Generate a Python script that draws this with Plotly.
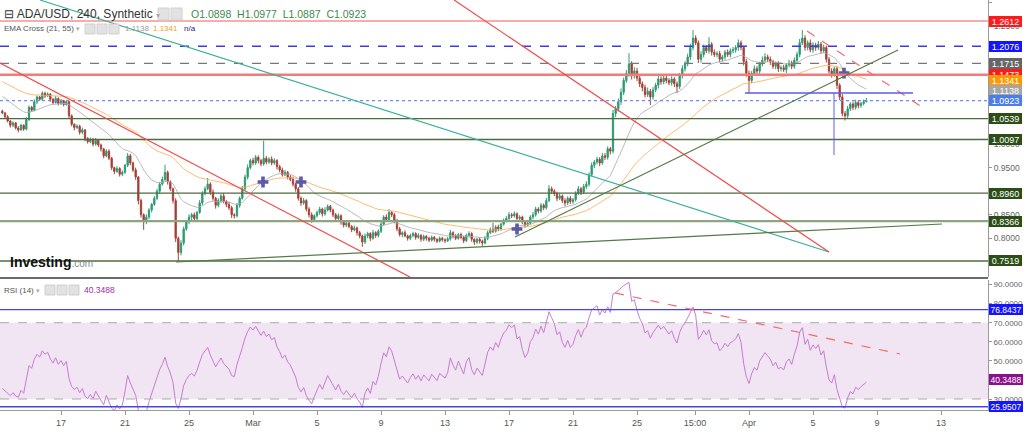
import plotly.graph_objects as go
import pandas as pd

# ---------------- data ----------------
start_time = "2021-02-13 08:00"
first_open = 1.070
close = [
    1.066, 1.058, 1.049, 1.040,                      # Feb 13
    1.045, 1.034, 1.030, 1.040, 1.032, 1.052,        # Feb 14
    1.078, 1.072, 1.090, 1.100, 1.095, 1.108,        # Feb 15
    1.102, 1.106, 1.095, 1.088, 1.097, 1.086,        # Feb 16
    1.092, 1.084, 1.090, 1.060, 1.042, 1.035,        # Feb 17
    1.038, 1.025, 1.030, 1.012, 1.005, 1.010,        # Feb 18
    1.000, 1.008, 0.998, 0.990, 0.975, 0.985,        # Feb 19
    0.970, 0.950, 0.942, 0.948, 0.936, 0.940,        # Feb 20
    0.955, 0.975, 0.960, 0.945, 0.930, 0.880,        # Feb 21
    0.850, 0.835, 0.845, 0.860, 0.872, 0.885,        # Feb 22
    0.900, 0.915, 0.925, 0.940, 0.920, 0.905,        # Feb 23
    0.880, 0.800, 0.770, 0.790, 0.820, 0.835,        # Feb 24
    0.845, 0.850, 0.842, 0.855, 0.875, 0.895,        # Feb 25
    0.905, 0.915, 0.898, 0.885, 0.870, 0.880,        # Feb 26
    0.890, 0.878, 0.872, 0.865, 0.850, 0.848,        # Feb 27
    0.870, 0.885, 0.905, 0.930, 0.950, 0.965,        # Feb 28
    0.960, 0.972, 0.965, 0.958, 0.970, 0.962,        # Mar 1
    0.968, 0.960, 0.965, 0.952, 0.945, 0.935,        # Mar 2
    0.940, 0.930, 0.925, 0.915, 0.905, 0.885,        # Mar 3
    0.875, 0.880, 0.862, 0.850, 0.840, 0.848,        # Mar 4
    0.855, 0.862, 0.852, 0.860, 0.868, 0.860,        # Mar 5
    0.850, 0.842, 0.848, 0.835, 0.828, 0.832,        # Mar 6
    0.825, 0.818, 0.822, 0.812, 0.805, 0.792,        # Mar 7
    0.805, 0.810, 0.800, 0.812, 0.806, 0.815,        # Mar 8
    0.830, 0.845, 0.840, 0.855, 0.850, 0.838,        # Mar 9
    0.820, 0.808, 0.812, 0.805, 0.800, 0.806,        # Mar 10
    0.810, 0.802, 0.806, 0.798, 0.804, 0.800,        # Mar 11
    0.796, 0.802, 0.798, 0.794, 0.800, 0.797,        # Mar 12
    0.795, 0.799, 0.812, 0.805, 0.800, 0.808,        # Mar 13
    0.802, 0.795, 0.806, 0.810, 0.798, 0.792,        # Mar 14
    0.798, 0.794, 0.790, 0.800, 0.812, 0.818,        # Mar 15
    0.815, 0.824, 0.820, 0.830, 0.838, 0.842,        # Mar 16
    0.850, 0.848, 0.852, 0.842, 0.845, 0.835,        # Mar 17
    0.828, 0.832, 0.845, 0.850, 0.862, 0.858,        # Mar 18
    0.870, 0.865, 0.880, 0.905, 0.900, 0.895,        # Mar 19
    0.885, 0.890, 0.880, 0.875, 0.885, 0.878,        # Mar 20
    0.882, 0.895, 0.905, 0.898, 0.910, 0.915,        # Mar 21
    0.935, 0.955, 0.962, 0.968, 0.960, 0.975,        # Mar 22
    0.972, 0.990, 0.985, 1.065, 1.075, 1.090,        # Mar 23
    1.110, 1.135, 1.150, 1.170, 1.145, 1.155,        # Mar 24
    1.140, 1.128, 1.120, 1.105, 1.112, 1.100,        # Mar 25
    1.115, 1.125, 1.138, 1.132, 1.140, 1.135,        # Mar 26
    1.130, 1.138, 1.128, 1.122, 1.145, 1.160,        # Mar 27
    1.170, 1.185, 1.205, 1.225, 1.215, 1.180,        # Mar 28
    1.190, 1.205, 1.198, 1.212, 1.195, 1.190,        # Mar 29
    1.192, 1.180, 1.185, 1.195, 1.190, 1.198,        # Mar 30
    1.200, 1.205, 1.215, 1.205, 1.175, 1.150,        # Mar 31
    1.135, 1.150, 1.160, 1.155, 1.170, 1.178,        # Apr 1
    1.185, 1.180, 1.175, 1.165, 1.170, 1.160,        # Apr 2
    1.162, 1.158, 1.168, 1.172, 1.165, 1.178,        # Apr 3
    1.190, 1.215, 1.225, 1.205, 1.215, 1.200,        # Apr 4
    1.210, 1.205, 1.212, 1.198, 1.205, 1.180,        # Apr 5
    1.155, 1.148, 1.160, 1.125, 1.100, 1.065,        # Apr 6
    1.060, 1.075, 1.085, 1.078, 1.088, 1.082,        # Apr 7
    1.086, 1.0898, 1.0923,                           # Apr 8
]
# wick lengths above / below the candle body, in thousandths
upper_wick = [
    3, 2, 4, 2,
    3, 2, 4, 3, 2, 5,   4, 3, 5, 3, 2, 4,   3, 4, 2, 3, 5, 2,   4, 2, 3, 2, 3, 2,
    4, 3, 5, 2, 3, 4,   3, 5, 2, 3, 2, 4,   4, 3, 2, 5, 3, 4,   3, 6, 4, 3, 5, 2,
    4, 3, 6, 4, 3, 5,   5, 4, 6, 16, 4, 3,  3, 5, 4, 6, 5, 4,   6, 4, 5, 3, 6, 5,
    5, 13, 4, 6, 3, 5,  4, 6, 3, 5, 4, 3,   5, 4, 6, 5, 7, 4,   6, 5, 4, 3, 37, 5,
    4, 6, 5, 3, 4, 5,   5, 3, 4, 6, 3, 4,   4, 6, 3, 4, 5, 3,   4, 5, 3, 6, 4, 3,
    3, 4, 5, 3, 4, 5,   4, 3, 5, 3, 4, 3,   5, 4, 3, 6, 3, 4,   5, 4, 6, 7, 3, 4,
    3, 4, 3, 5, 3, 4,   4, 3, 5, 3, 4, 3,   3, 4, 3, 2, 4, 3,   3, 4, 6, 3, 4, 3,
    4, 3, 4, 5, 3, 2,   3, 4, 3, 5, 4, 5,   15, 4, 5, 3, 4, 5,  6, 4, 5, 3, 4, 3,
    3, 5, 4, 6, 5, 4,   5, 4, 6, 8, 5, 4,   4, 6, 3, 5, 4, 5,   4, 5, 6, 4, 5, 6,
    5, 6, 4, 5, 4, 6,   6, 5, 4, 8, 6, 7,   8, 6, 7, 23, 6, 8,  7, 6, 5, 6, 8, 5,
    6, 5, 7, 6, 5, 6,   5, 6, 4, 5, 6, 7,   6, 7, 8, 17, 6, 5,  7, 6, 5, 15, 4, 6,
    5, 6, 4, 5, 6, 5,   6, 5, 7, 5, 4, 6,   6, 5, 7, 6, 5, 8,   8, 5, 6, 4, 5, 6,
    5, 6, 4, 7, 5, 6,   6, 8, 17, 6, 5, 7,  6, 5, 7, 5, 6, 4,   5, 6, 4, 5, 4, 6,
    5, 6, 4, 5, 6, 5,
    4, 5, 5.4,
]
lower_wick = [
    2, 4, 3, 5,
    4, 3, 5, 2, 4, 3,   3, 4, 2, 5, 3, 2,   4, 2, 5, 3, 2, 4,   3, 4, 2, 5, 4, 6,
    3, 5, 4, 6, 4, 3,   5, 3, 4, 6, 5, 3,   4, 5, 6, 3, 5, 4,   3, 4, 5, 4, 6, 8,
    6, 17, 5, 4, 5, 3,  4, 5, 3, 4, 6, 5,   6, 8, 19, 6, 5, 4,  5, 6, 4, 5, 3, 4,
    4, 3, 6, 5, 7, 4,   5, 4, 6, 5, 7, 6,   4, 5, 3, 4, 5, 4,   5, 4, 6, 5, 4, 5,
    4, 5, 4, 6, 5, 4,   3, 5, 4, 5, 6, 5,   6, 4, 5, 6, 7, 4,   4, 5, 6, 4, 3, 5,
    5, 4, 3, 6, 5, 4,   4, 5, 3, 6, 5, 10,  4, 5, 6, 3, 5, 4,   4, 3, 5, 4, 5, 6,
    5, 4, 6, 3, 5, 4,   4, 5, 3, 5, 4, 5,   4, 3, 5, 4, 3, 4,   5, 3, 4, 5, 4, 3,
    4, 5, 3, 4, 5, 6,   4, 5, 6, 3, 4, 3,   4, 3, 5, 4, 3, 4,   3, 5, 4, 6, 4, 5,
    6, 4, 3, 5, 4, 5,   4, 5, 4, 3, 6, 5,   6, 4, 5, 7, 4, 5,   5, 4, 3, 6, 4, 5,
    5, 4, 6, 5, 7, 4,   6, 5, 7, 5, 8, 6,   7, 6, 5, 7, 8, 6,   6, 7, 8, 6, 5, 17,
    6, 5, 7, 6, 5, 6,   5, 6, 7, 14, 5, 6,  6, 5, 7, 6, 5, 8,   7, 6, 5, 6, 7, 5,
    6, 7, 5, 6, 5, 6,   5, 6, 7, 6, 8, 7,   27, 6, 5, 7, 6, 5,  5, 6, 7, 5, 6, 7,
    6, 5, 7, 5, 6, 5,   5, 6, 5, 7, 6, 5,   6, 7, 5, 6, 5, 7,   6, 7, 5, 8, 7, 6,
    10, 6, 5, 6, 5, 6,
    5, 4, 1.1,
]
assert len(close) == len(upper_wick) == len(lower_wick)

# indicator seeds (values of the averages at the left edge)
ema_fast_seed, ema_slow_seed = 1.105, 1.135
rsi_gain_seed, rsi_loss_seed = 0.0068, 0.0120

# horizontal levels: price, colour, dash, width
level_price = [1.2612, 1.2076, 1.1715, 1.1473, 1.0923, 1.0539, 1.0097, 0.8960, 0.8366, 0.7519]
level_color = ["#f25b5b", "#3a3af0", "#777777", "#f27a7a", "#6f8ff0",
               "#4e6b3f", "#4e6b3f", "#4e6b3f", "#8fa582", "#4e6b3f"]
level_dash = ["solid", "dash", "dash", "solid", "dot", "solid", "solid", "solid", "solid", "solid"]
level_width = [1.2, 1.3, 1.2, 2.4, 1.1, 1.3, 1.3, 1.3, 2.2, 1.3]

# right-axis price tags
tag_price = [1.2612, 1.2076, 1.1715, 1.1473, 1.1341, 1.1138, 1.0923, 1.0539, 1.0097, 0.8960, 0.8366, 0.7519]
tag_color = ["#ff1a1a", "#1414ff", "#666666", "#ff1a1a", "#ff9900", "#a6a6a6", "#4a7ee8",
             "#2c4e16", "#2c4e16", "#2c4e16", "#2c4e16", "#2c4e16"]
rsi_tag_value = [76.8437, 40.3488, 25.9507]
rsi_tag_color = ["#1414ff", "#8b108b", "#1414ff"]

# axis ticks that are not hidden behind a tag
price_ticks = [0.80, 0.85, 0.95, 1.00, 1.25, 1.30]
rsi_ticks = [30, 50, 60, 70, 80, 90]

# drawn trend lines (start time, start price, end time, end price, colour, dash)
trend_lines = [
    ("2021-02-13 04:30", 1.1720, "2021-03-10 19:30", 0.7179, "#f24a4a", "solid"),
    ("2021-02-15 16:30", 1.3058, "2021-04-06 00:00", 0.7710, "#3cb09a", "solid"),
    ("2021-03-13 13:30", 1.3058, "2021-04-06 00:00", 0.7710, "#f24a4a", "solid"),
    ("2021-02-24 04:30", 0.7497, "2021-04-13 01:30", 0.8304, "#557a45", "solid"),
    ("2021-03-17 09:00", 0.8028, "2021-04-10 07:30", 1.1997, "#557a45", "solid"),
    ("2021-04-04 15:00", 1.2400, "2021-04-12 00:00", 1.0744, "#f46a6a", "dash"),
]
blue_h = ("2021-03-31 18:00", "2021-04-11 06:00", 1.1084)
blue_v = ("2021-04-06 07:30", 1.1084, 0.9768)
cross_time = ["2021-03-01 15:00", "2021-03-04 00:00", "2021-03-17 12:00", "2021-04-06 22:30"]
cross_price = [0.9195, 0.9195, 0.8198, 1.1508]
rsi_trend = ("2021-03-23 15:00", 85.6, "2021-04-10 10:30", 53.6)

tick_dates = ["2021-02-17", "2021-02-21", "2021-02-25", "2021-03-01", "2021-03-05", "2021-03-09",
              "2021-03-13", "2021-03-17", "2021-03-21", "2021-03-25", "2021-03-28 15:00",
              "2021-04-01", "2021-04-05", "2021-04-09", "2021-04-13"]
tick_text = ["17", "21", "25", "Mar", "5", "9", "13", "17", "21", "25", "15:00", "Apr", "5", "9", "13"]

# ---------------- derived series ----------------
times = pd.date_range(start_time, periods=len(close), freq="4h")
opens = [first_open] + close[:-1]
highs = [max(o, c) + u / 1000 for o, c, u in zip(opens, close, upper_wick)]
lows = [min(o, c) - l / 1000 for o, c, l in zip(opens, close, lower_wick)]


def ema(values, span, seed):
    a = 2 / (span + 1)
    out, e = [], seed
    for v in values:
        e = e + a * (v - e)
        out.append(e)
    return out


ema21 = ema(close, 21, ema_fast_seed)
ema55 = ema(close, 55, ema_slow_seed)

rsi = []
ag, al = rsi_gain_seed, rsi_loss_seed
for o, c in zip(opens, close):
    ch = c - o
    ag = (ag * 13 + max(ch, 0)) / 14
    al = (al * 13 + max(-ch, 0)) / 14
    rsi.append(100 - 100 / (1 + ag / al))

# ---------------- figure ----------------
W, H = 1024, 431
PL, PR, PT, PB = 0, 36, 0, 21
PW, PH = W - PL - PR, H - PT - PB


def px(xp):
    return xp / PW


def py(yp):
    return 1 - yp / PH


FONT = "Liberation Sans, Arial, sans-serif"

fig = go.Figure()
fig.add_trace(go.Candlestick(
    x=times, open=opens, high=highs, low=lows, close=close,
    increasing=dict(line=dict(color="#2f9a72", width=1), fillcolor="#23a06d"),
    decreasing=dict(line=dict(color="#a8443a", width=1), fillcolor="#a3302a"),
    whiskerwidth=0, xaxis="x", yaxis="y", showlegend=False, hoverinfo="skip"))
fig.add_trace(go.Scatter(x=times, y=ema21, mode="lines", line=dict(color="rgba(175,175,175,0.85)", width=1),
                         xaxis="x", yaxis="y", showlegend=False, hoverinfo="skip"))
fig.add_trace(go.Scatter(x=times, y=ema55, mode="lines", line=dict(color="rgba(255,175,90,0.85)", width=1),
                         xaxis="x", yaxis="y", showlegend=False, hoverinfo="skip"))
fig.add_trace(go.Scatter(x=cross_time, y=cross_price, mode="markers",
                         marker=dict(symbol="cross", size=9, color="#5a5aa8"),
                         xaxis="x", yaxis="y", showlegend=False, hoverinfo="skip"))
fig.add_trace(go.Scatter(x=times, y=rsi, mode="lines", line=dict(color="#c77dd0", width=1),
                         xaxis="x", yaxis="y2", showlegend=False, hoverinfo="skip"))

shapes = []
# RSI band
shapes.append(dict(type="rect", xref="paper", yref="y2", x0=0, x1=1, y0=30, y1=70,
                   fillcolor="#f1e4f3", line=dict(width=0), layer="below"))
for v in (70, 30):
    shapes.append(dict(type="line", xref="paper", yref="y2", x0=0, x1=1, y0=v, y1=v,
                       line=dict(color="#aaaaaa", width=1, dash="dash")))
for v in (76.8437, 25.9507):
    shapes.append(dict(type="line", xref="paper", yref="y2", x0=0, x1=1, y0=v, y1=v,
                       line=dict(color="#4545f0", width=1.3)))
# price levels
for p, c, d, w in zip(level_price, level_color, level_dash, level_width):
    shapes.append(dict(type="line", xref="paper", yref="y", x0=0, x1=1, y0=p, y1=p,
                       line=dict(color=c, width=w, dash=d)))
# trend lines
for t0, p0, t1, p1, c, d in trend_lines:
    shapes.append(dict(type="line", xref="x", yref="y", x0=t0, x1=t1, y0=p0, y1=p1,
                       line=dict(color=c, width=1.2, dash=d)))
shapes.append(dict(type="line", xref="x", yref="y", x0=blue_h[0], x1=blue_h[1], y0=blue_h[2], y1=blue_h[2],
                   line=dict(color="rgba(90,90,240,0.75)", width=2)))
shapes.append(dict(type="line", xref="x", yref="y", x0=blue_v[0], x1=blue_v[0], y0=blue_v[1], y1=blue_v[2],
                   line=dict(color="rgba(90,90,240,0.75)", width=1.3)))
shapes.append(dict(type="line", xref="x", yref="y2", x0=rsi_trend[0], x1=rsi_trend[2],
                   y0=rsi_trend[1], y1=rsi_trend[3], line=dict(color="#f46a6a", width=1.2, dash="dash")))
# panel separator
shapes.append(dict(type="line", xref="paper", yref="paper", x0=0, x1=1, y0=py(278), y1=py(278),
                   line=dict(color="#6a6a6a", width=2)))
# small toolbar icons
for x0, x1, y0, y1 in [(158, 169, 8, 20), (171, 182, 8, 20),
                       (85, 95, 24, 34), (97, 107, 24, 34), (109, 119, 24, 34),
                       (45, 55, 285, 295), (57, 67, 285, 295), (69, 79, 285, 295)]:
    shapes.append(dict(type="rect", xref="paper", yref="paper", x0=px(x0), x1=px(x1), y0=py(y1), y1=py(y0),
                       fillcolor="#e2e2e2", line=dict(color="#d0d0d0", width=1)))

ann = []
for p, c in zip(tag_price, tag_color):
    ann.append(dict(xref="paper", yref="y", x=1, y=p, xanchor="left", yanchor="middle", xshift=1,
                    text=f"{p:.4f}", showarrow=False, bgcolor=c, borderpad=0, borderwidth=0,
                    width=33, height=11, align="center",
                    font=dict(family=FONT, size=9, color="white")))
for v, c in zip(rsi_tag_value, rsi_tag_color):
    ann.append(dict(xref="paper", yref="y2", x=1, y=v, xanchor="left", yanchor="middle", xshift=1,
                    text=f"{v:.4f}", showarrow=False, bgcolor=c, borderpad=0, borderwidth=0,
                    width=34, height=11, align="center",
                    font=dict(family=FONT, size=8.5, color="white")))


def label(xp, yp, text, size, color):
    ann.append(dict(xref="paper", yref="paper", x=px(xp), y=py(yp), xanchor="left", yanchor="middle",
                    text=text, showarrow=False, font=dict(family=FONT, size=size, color=color)))


label(2, 14, "⊟ ADA/USD, 240, Synthetic <span style='color:#aaa;font-size:8px'>▾</span>", 12, "#333333")
label(189, 14, "O1.0898  H1.0977  L1.0887  C1.0923", 10.5, "#3f8a4f")
label(2, 29, "EMA Cross (21, 55) <span style='color:#aaa;font-size:7px'>▾</span>", 8, "#555555")
label(123, 29, "1.1138", 8, "#9a9a9a")
label(151, 29, "1.1341", 8, "#f5a020")
label(182, 29, "n/a", 8, "#1a237e")
label(2, 290, "RSI (14) <span style='color:#aaa;font-size:7px'>▾</span>", 8, "#555555")
label(82, 290, "40.3488", 8.5, "#9b2fa8")
label(8, 262, "<b>Investing</b><span style='font-size:10px;color:#888'>.com</span>", 14, "#111111")

fig.update_layout(
    width=W, height=H, margin=dict(l=PL, r=PR, t=PT, b=PB, autoexpand=False),
    paper_bgcolor="white", plot_bgcolor="white", showlegend=False,
    shapes=shapes, annotations=ann,
    xaxis=dict(domain=[0, 1], anchor="y2", type="date",
               range=["2021-02-13 04:30", "2021-04-15 22:30"],
               tickvals=tick_dates, ticktext=tick_text, showgrid=False, zeroline=False,
               rangeslider=dict(visible=False), showline=True, linecolor="#999999", linewidth=1,
               ticks="outside", ticklen=4, tickcolor="#999999",
               tickfont=dict(family=FONT, size=9, color="#555555"), automargin=False),
    yaxis=dict(domain=[py(277), 1], anchor="x", side="right", range=[0.7179, 1.3058],
               tickvals=price_ticks, tickformat=".4f", showgrid=False, zeroline=False,
               showline=True, linecolor="#999999",
               ticks="outside", ticklen=3, tickcolor="#999999",
               tickfont=dict(family=FONT, size=8.5, color="#666666"), automargin=False),
    yaxis2=dict(domain=[0, py(280)], anchor="x", side="right", range=[24.24, 92.39],
                tickvals=rsi_ticks, tickformat=".4f", showgrid=False, zeroline=False,
                showline=True, linecolor="#999999", ticks="outside", ticklen=3, tickcolor="#999999",
                tickfont=dict(family=FONT, size=8, color="#666666"), automargin=False),
)

fig.write_html("out.html")
